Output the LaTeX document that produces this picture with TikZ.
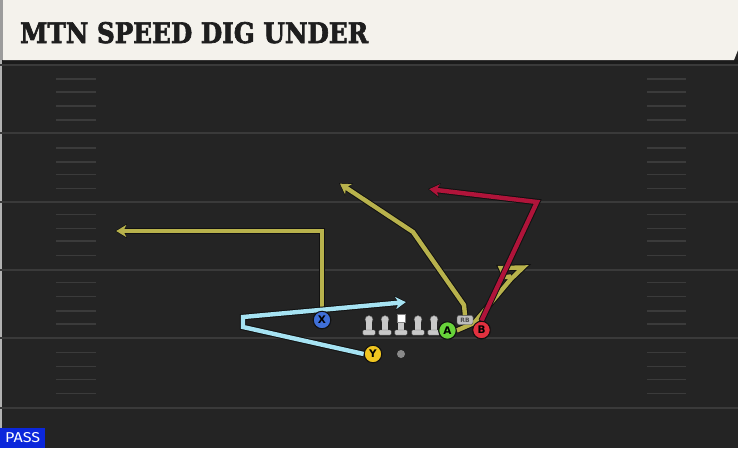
\documentclass[tikz,border=0pt]{standalone}
\usepackage{fontspec}
\setmainfont{DejaVu Sans}
\newfontfamily\titlefont[BoldFeatures={FakeBold=2.5}]{DejaVu Serif}
\newfontfamily\passfont{Fira Sans}
\usetikzlibrary{arrows.meta}
\definecolor{bg}{HTML}{242424}
\definecolor{band}{HTML}{1B1B1B}
\definecolor{yardc}{HTML}{3A3A3A}
\definecolor{hashc}{HTML}{3B3B3B}
\definecolor{hdr}{HTML}{F4F2EC}
\definecolor{hdrstrip}{HTML}{9C9C9C}
\definecolor{titlec}{HTML}{1E1E1E}
\definecolor{olivec}{HTML}{B8B24C}
\definecolor{skyc}{HTML}{A6E3F3}
\definecolor{redc}{HTML}{B0143A}
\definecolor{xblue}{HTML}{3F6FD8}
\definecolor{yyel}{HTML}{F0C520}
\definecolor{agrn}{HTML}{68D33A}
\definecolor{bred}{HTML}{E2313F}
\definecolor{linec}{HTML}{C9C9C9}
\definecolor{rbc}{HTML}{BDBDBD}
\definecolor{ballc}{HTML}{8A8A8A}
\definecolor{passblue}{HTML}{0B27DB}
\definecolor{edgec}{HTML}{111111}
\tikzset{
  rt/.style={draw=#1, line width=4.4pt, line join=miter,
    preaction={draw=edgec, line width=6.4pt, line join=miter}},
  rta/.style={draw=#1, line width=4.4pt, line join=miter, shorten >=1.2pt,
    -{Stealth[length=10pt,width=12pt,inset=2.8pt]},
    preaction={draw=edgec, line width=6.4pt, line join=miter, shorten >=0pt,
      -{Stealth[length=12pt,width=14.5pt,inset=3.2pt]}}},
  player/.style={circle, draw=edgec, line width=1pt, minimum size=17.5pt, inner sep=0pt,
    font=\bfseries\fontsize{10.5}{10.5}\selectfont, text=black},
  rbbox/.style={draw=black!70, fill=rbc, rounded corners=2pt, minimum width=16pt, minimum height=9pt, inner sep=0pt,
    font=\bfseries\fontsize{6}{6}\selectfont, text=black!70},
  yardline/.style={draw=yardc, line width=2pt},
  hashmark/.style={draw=hashc, line width=1.5pt},
  lineman/.pic={
    \fill[linec, draw=black!60, line width=0.4pt] (0,0.5) circle (3.9);
    \fill[linec] (-2.6,2) rectangle (2.6,11.5);
    \fill[linec, draw=black!60, line width=0.4pt, rounded corners=1pt] (-6.2,11) rectangle (6.2,16);
  },
  centerman/.pic={
    \fill[white, draw=black!50, line width=0.6pt] (-4,-4.5) rectangle (4,3.5);
    \fill[linec] (-2.6,3.5) rectangle (2.6,11.5);
    \fill[linec, draw=black!60, line width=0.4pt, rounded corners=1pt] (-6.2,11) rectangle (6.2,16);
  }
}
\begin{document}
\begin{tikzpicture}[x=1pt,y=-1pt]
\useasboundingbox (0,0) rectangle (738,448);
\fill[bg] (0,0) rectangle (738,448);
\fill[band] (0,60) rectangle (738,65);
\fill[black!30] (0,60) rectangle (1.5,448);
% yard lines
\foreach \yy in {65,133,202,270,338,408}
  \draw[yardline] (0,\yy) -- (738,\yy);
% hash marks
\foreach \yy in {79,92,106,120,148,162,174.5,188.5,214.5,228.5,241,255.5,282.5,296.5,311,324,352.5,366.5,379.5,393.5}{
  \draw[hashmark] (56,\yy) -- (96,\yy);
  \draw[hashmark] (647,\yy) -- (686,\yy);
}
% header
\fill[hdr] (3,0) -- (738,0) -- (738,50) -- (734,60) -- (3,60) -- cycle;
\fill[hdrstrip] (0,0) rectangle (3,60);
\node[anchor=base west, inner sep=0pt, text=titlec] (title) at (20,43)
  {\resizebox{348pt}{21pt}{\titlefont\bfseries MTN SPEED DIG UNDER}};
% pass box
\node[anchor=south west, fill=passblue, text=white, minimum width=45pt, minimum height=20pt, inner sep=0pt] (pass) at (0,448)
  {\resizebox{35pt}{10pt}{\passfont PASS}};
% offensive line
\pic at (369,319) {lineman};
\pic at (385,319) {lineman};
\pic at (401,319) {centerman};
\pic at (418,319) {lineman};
\pic at (434,319) {lineman};
% players (placed first so routes can attach)
\node[player, fill=xblue] (X) at (322,320) {X};
\node[player, fill=yyel] (Y) at (373,354) {Y};
\node[player, fill=agrn] (A) at (447.5,330.5) {A};
\node[player, fill=bred] (B) at (481.5,330) {B};
\node[rbbox] (RB) at (465,320) {RB};
\node[circle, fill=ballc, minimum size=8pt, inner sep=0pt] (ball) at (401,354) {};
% route coordinates
\coordinate (x1) at (322,231);
\coordinate (x2) at (115,231);
\coordinate (r1) at (464,305);
\coordinate (r2) at (413,232);
\coordinate (r3) at (339,183);
\coordinate (a1) at (474,323);
\coordinate (a2) at (511,279);
\coordinate (a3) at (523,267.5);
\coordinate (a4) at (501,268);
\coordinate (a5) at (505,277);
\coordinate (a6) at (511,276.5);
\coordinate (y1) at (243,327);
\coordinate (y2) at (243,317);
\coordinate (y3) at (407,302);
\coordinate (b1) at (537,202);
\coordinate (b2) at (428,189);
% routes
\draw[rta=olivec] (X.north) -- (x1) -- (x2);
\draw[rta=olivec] (RB.north) -- (r1) -- (r2) -- (r3);
\draw[rt=olivec] (A.east) -- (a1) -- (a2) -- (a3) -- (a4) -- (a5) -- (a6);
\draw[rta=skyc] (Y.west) -- (y1) -- (y2) -- (y3);
\draw[rta=redc] (B.north) -- (b1) -- (b2);
% players redrawn on top of routes
\node[player, fill=xblue] at (X) {X};
\node[player, fill=yyel] at (Y) {Y};
\node[player, fill=agrn] at (A) {A};
\node[player, fill=bred] at (B) {B};
\node[rbbox] at (RB) {RB};
\end{tikzpicture}
\end{document}
